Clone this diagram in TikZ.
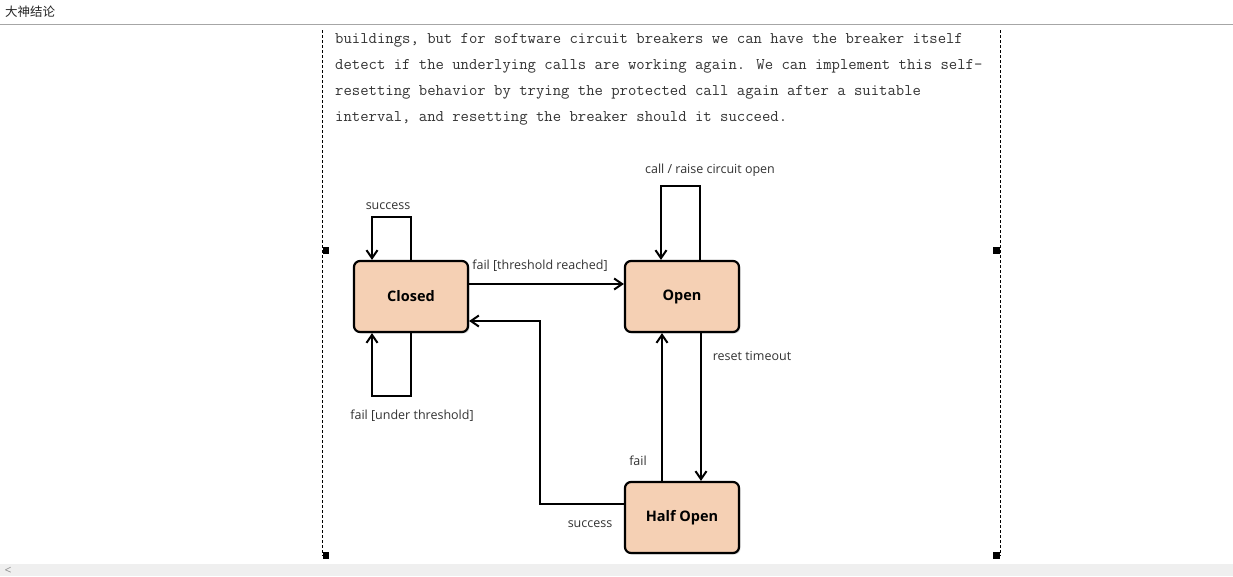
\documentclass[tikz,border=0pt]{standalone}
\usepackage{fontspec}
\setmainfont{Open Sans}
\newfontfamily\cjk{Noto Sans CJK SC}
\usetikzlibrary{arrows.meta,positioning,shadows}
\definecolor{statefill}{HTML}{F5D0B4}
\definecolor{labelgray}{HTML}{333333}
\definecolor{bargray}{HTML}{EFEFEF}

\begin{document}
\begin{tikzpicture}[x=1pt,y=-1pt,
 state node/.style={rectangle,draw,line width=2.2pt,rounded corners=6pt,fill=statefill,
   minimum width=114pt,minimum height=71pt,
   drop shadow={opacity=0.25,shadow xshift=1.5pt,shadow yshift=-1.5pt},
   font=\fontsize{14.5}{17}\selectfont\bfseries},
 flow/.style={line width=2pt,-{Straight Barb[length=8pt,width=11pt]}},
 lbl/.style={font=\fontsize{12.5}{15}\selectfont,text=labelgray,inner sep=0pt},
 para/.style={anchor=base west,inner sep=0pt,text=black!80,
   font=\ttfamily\fontsize{16.25}{26}\selectfont},
 frame/.style={line width=1pt,dash pattern=on 3pt off 2pt}]

  \useasboundingbox[fill=white] (0,0) rectangle (1233,576);

  % window bar
  \node[anchor=west,inner sep=0pt,font=\cjk\fontsize{12.5}{15}\selectfont,text=black!85] (title) at (5,12) {大神结论};
  \draw[black!35,line width=1pt] (0,24) -- (1233,24);
  \fill[bargray] (0,564) rectangle (1233,576);
  \node[font=\fontsize{12}{12}\selectfont,text=black!45,inner sep=0pt] (back) at (8,570.5) {<};

  % page frame
  \draw[frame] (322,30) -- (322,556);
  \draw[frame] (1000,30) -- (1000,556);
  \foreach \hx/\hy in {322.5/247, 993/247, 322.5/552, 993/552}
   \fill (\hx,\hy) rectangle ++(6.5,6.5);

  % text
  \node[para] (line1) at (335,43) {buildings, but for software circuit breakers we can have the breaker itself};
  \node[para] (line2) at (335,69) {detect if the underlying calls are working again. We can implement this self-};
  \node[para] (line3) at (335,95) {resetting behavior by trying the protected call again after a suitable};
  \node[para] (line4) at (335,121) {interval, and resetting the breaker should it succeed.};

  % states
  \node[state node] (closed) at (411,296.5) {Closed};
  \node[state node] (open) at (682,296.5) {Open};
  \node[state node] (half) at (682,517.5) {Half Open};
  \coordinate (sbend) at (540,321);

  % transitions
  \draw[flow] (closed.north) -- ++(0,-43) -- ++(-39,0) -- ([xshift=-39pt]closed.north);
  \draw[flow] (closed.south) -- ++(0,63) -- ++(-39,0) -- ([xshift=-39pt]closed.south);
  \draw[flow] ([xshift=18pt]open.north) -- ++(0,-74) -- ++(-39,0) -- ([xshift=-21pt]open.north);
  \draw[flow] ([yshift=12.5pt]closed.east) -- ([yshift=12.5pt]open.west);
  \draw[flow] ([xshift=19pt]open.south) -- ([xshift=19pt]half.north);
  \draw[flow] ([xshift=-20pt]half.north) -- ([xshift=-20pt]open.south);
  \draw[flow] ([yshift=13.5pt]half.west) -| (sbend) -- ([yshift=-24.5pt]closed.east);

  % labels
  \node[lbl] (l1) at (388,206.5) {success};
  \node[lbl] (l2) at (412,415.5) {fail [under threshold]};
  \node[lbl] (l3) at (540,265.5) {fail [threshold reached]};
  \node[lbl] (l4) at (710,170.5) {call / raise circuit open};
  \node[lbl] (l5) at (752,356) {reset timeout};
  \node[lbl] (l6) at (638,461) {fail};
  \node[lbl] (l7) at (590,524) {success};
\end{tikzpicture}
\end{document}
